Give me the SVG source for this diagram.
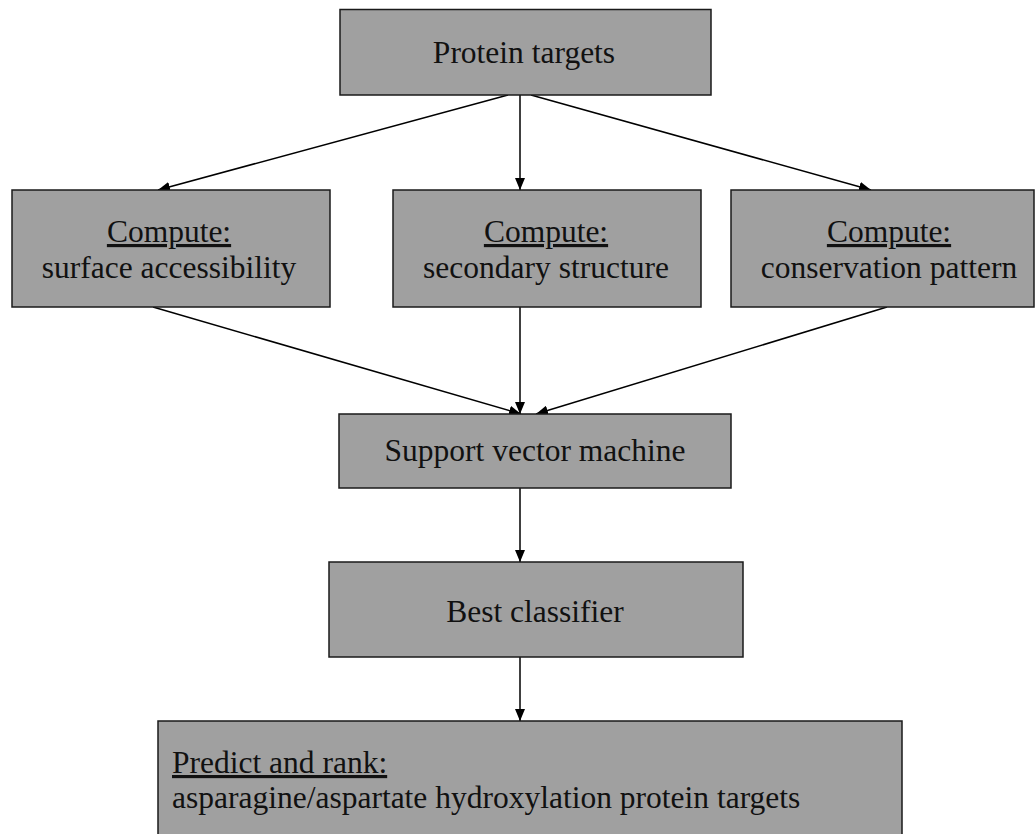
<svg xmlns="http://www.w3.org/2000/svg" width="1035" height="834" viewBox="0 0 1035 834">
  <defs>
    <marker id="arrow" viewBox="0 0 12 10" refX="12" refY="5" markerWidth="12" markerHeight="10" markerUnits="userSpaceOnUse" orient="auto">
      <path d="M0,0 L12,5 L0,10 Z" fill="#000"/>
    </marker>
  </defs>
  <style>
    .box { fill: #a0a0a0; stroke: #1a1a1a; stroke-width: 1.5; }
    .label { font-family: "Liberation Serif", "Times New Roman", serif; font-size: 31.5px; fill: #111; }
    .mid { text-anchor: middle; }
    .edge { stroke: #000; stroke-width: 1.5; fill: none; marker-end: url(#arrow); }
  </style>
  <rect width="1035" height="834" fill="#fff"/>

  <g id="connectors">
    <line class="edge" x1="508" y1="95" x2="158" y2="190"/>
    <line class="edge" x1="520" y1="95" x2="520" y2="190"/>
    <line class="edge" x1="531" y1="95" x2="871" y2="190"/>
    <line class="edge" x1="153" y1="307" x2="521" y2="414"/>
    <line class="edge" x1="520" y1="307" x2="520" y2="414"/>
    <line class="edge" x1="887" y1="307" x2="536" y2="414"/>
    <line class="edge" x1="520" y1="488" x2="520" y2="562"/>
    <line class="edge" x1="520" y1="657" x2="520" y2="721"/>
  </g>

  <g id="protein-targets">
    <rect class="box" x="340" y="9.5" width="371" height="85.5"/>
    <text class="label mid" x="524" y="63">Protein targets</text>
  </g>

  <g id="surface-accessibility">
    <rect class="box" x="12" y="190" width="318" height="117"/>
    <text class="label mid" x="169" y="242" text-decoration="underline">Compute:</text>
    <text class="label mid" x="169" y="278">surface accessibility</text>
  </g>

  <g id="secondary-structure">
    <rect class="box" x="393" y="190" width="308" height="117"/>
    <text class="label mid" x="546" y="242" text-decoration="underline">Compute:</text>
    <text class="label mid" x="546" y="278">secondary structure</text>
  </g>

  <g id="conservation-pattern">
    <rect class="box" x="731" y="190" width="303" height="117"/>
    <text class="label mid" x="889" y="242" text-decoration="underline">Compute:</text>
    <text class="label mid" x="889" y="278">conservation pattern</text>
  </g>

  <g id="svm">
    <rect class="box" x="339" y="414" width="392" height="74"/>
    <text class="label mid" x="535" y="461">Support vector machine</text>
  </g>

  <g id="best-classifier">
    <rect class="box" x="329" y="562" width="414" height="95"/>
    <text class="label mid" x="535" y="622">Best classifier</text>
  </g>

  <g id="predict-rank">
    <rect class="box" x="158" y="721" width="744" height="130"/>
    <text class="label" x="172" y="773" text-decoration="underline">Predict and rank:</text>
    <text class="label" x="172" y="808">asparagine/aspartate hydroxylation protein targets</text>
  </g>
</svg>
